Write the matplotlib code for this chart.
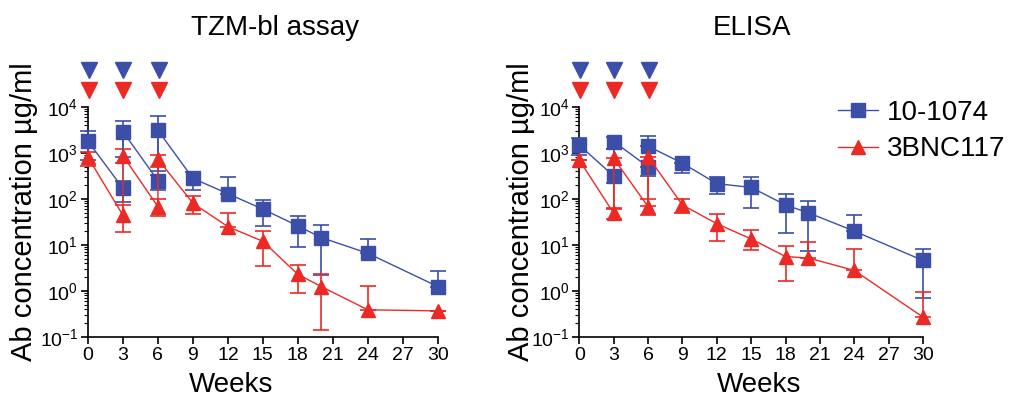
import numpy as np
import matplotlib
matplotlib.use("Agg")
import matplotlib.pyplot as plt

plt.rcParams['font.family'] = ['Liberation Sans', 'DejaVu Sans']
plt.rcParams['mathtext.fontset'] = 'custom'
plt.rcParams['mathtext.rm'] = 'Liberation Sans'
plt.rcParams['mathtext.it'] = 'Liberation Sans:italic'

BLUE = '#3b4fa9'
RED = '#ec2a25'

# weeks: 0, 3 (trough, peak), 6 (trough, peak), then decay
weeks = [0, 3, 3, 6, 6, 9, 12, 15, 18, 20, 24, 30]
dose_weeks = [0.1, 3, 6.1]
xticks = list(range(0, 31, 3))

# TZM-bl assay
tzm_1074 = [1800, 170, 2900, 250, 3100, 280, 130, 60, 26, 14.5, 6.6, 1.25]
tzm_1074_hi = [3000, 250, 5000, 330, 6300, 390, 300, 97, 43, 27, 13.5, 2.7]
tzm_1074_lo = [700, 85, 830, 160, 400, 160, 130, 26, 9, 2.2, 6.6, 1.25]
tzm_3bnc = [810, 44, 870, 68, 730, 81, 25, 12, 2.3, 1.25, 0.39, 0.37]
tzm_3bnc_hi = [1070, 74, 1230, 102, 900, 117, 50, 20.5, 3.6, 2.3, 1.3, 0.37]
tzm_3bnc_lo = [520, 19, 600, 42, 500, 47, 25, 3.5, 0.9, 0.14, 0.39, 0.37]

# ELISA
eli_1074 = [1480, 315, 1770, 500, 1400, 600, 215, 178, 74, 50, 20, 4.6]
eli_1074_hi = [2100, 1230, 2200, 500, 2350, 600, 295, 295, 130, 92, 44, 8.3]
eli_1074_lo = [900, 225, 1230, 320, 1400, 360, 130, 65, 18, 7.4, 20, 0.72]
eli_3bnc = [700, 49, 760, 68, 830, 74, 29, 13.5, 5.6, 5.2, 2.8, 0.27]
eli_3bnc_hi = [700, 63, 760, 102, 830, 100, 47, 21, 9.6, 11.8, 8.1, 0.96]
eli_3bnc_lo = [700, 36, 60, 44, 70, 49, 12.3, 7.6, 1.65, 5.2, 2.8, 0.27]

fig = plt.figure(figsize=(10.11, 3.96), dpi=100)
ax1 = fig.add_axes([0.087, 0.149, 0.346, 0.581])
ax2 = fig.add_axes([0.573, 0.149, 0.340, 0.581])


def draw(ax, title, tx, xlx, ylx, s1, h1, l1, s2, h2, l2):
    e1 = [np.array(s1) - np.array(l1), np.array(h1) - np.array(s1)]
    e2 = [np.array(s2) - np.array(l2), np.array(h2) - np.array(s2)]
    ax.errorbar(weeks, s1, yerr=e1, color=BLUE, marker='s', ms=10, lw=1,
                elinewidth=1.2, capsize=6, capthick=1.2, label='10-1074',
                clip_on=False, zorder=3)
    ax.errorbar(weeks, s2, yerr=e2, color=RED, marker='^', ms=10, lw=1,
                elinewidth=1.2, capsize=6, capthick=1.2, label='3BNC117',
                clip_on=False, zorder=3)
    ax.set_yscale('log')
    ax.set_ylim(0.1, 10000)
    ax.set_xlim(0, 30)
    ax.set_xticks(xticks)
    ax.set_xticklabels([str(t) for t in xticks])
    ax.set_yticks([0.1, 1, 10, 100, 1000, 10000])
    ax.set_yticklabels(['$10^{-1}$', '$10^{0}$', '$10^{1}$', '$10^{2}$',
                        '$10^{3}$', '$10^{4}$'])
    ax.tick_params(axis='both', labelsize=14, width=1.2, length=5, pad=2)
    ax.tick_params(axis='y', which='minor', length=3, width=0.8)
    for sp in ['top', 'right']:
        ax.spines[sp].set_visible(False)
    for sp in ['left', 'bottom']:
        ax.spines[sp].set_linewidth(1.2)
    ax.set_xlabel('Weeks', fontsize=20)
    ax.xaxis.set_label_coords(xlx, -0.15)
    ax.set_ylabel('Ab concentration µg/ml', fontsize=21)
    ax.yaxis.set_label_coords(ylx, 0.543)
    ax.set_title(title, fontsize=20, x=tx, y=1.313, pad=0)
    # dosing arrows
    tr = ax.get_xaxis_transform()
    ax.plot(dose_weeks, [1.161] * 3, 'v', color=BLUE, ms=11,
            transform=tr, clip_on=False)
    ax.plot(dose_weeks, [1.074] * 3, 'v', color=RED, ms=11,
            transform=tr, clip_on=False)


draw(ax1, 'TZM-bl assay', 0.534, 0.41, -0.143, tzm_1074, tzm_1074_hi,
     tzm_1074_lo, tzm_3bnc, tzm_3bnc_hi, tzm_3bnc_lo)
draw(ax2, 'ELISA', 0.503, 0.523, -0.13, eli_1074, eli_1074_hi, eli_1074_lo,
     eli_3bnc, eli_3bnc_hi, eli_3bnc_lo)

h, l = ax2.get_legend_handles_labels()
h = [x[0] for x in h]
fig.legend(h, l, loc='upper left', bbox_to_anchor=(0.829, 0.748),
           frameon=False, fontsize=20, handlelength=1.45, handletextpad=0.3,
           labelspacing=0.38, borderaxespad=0, borderpad=0)

fig.savefig('out.png', dpi=100)
